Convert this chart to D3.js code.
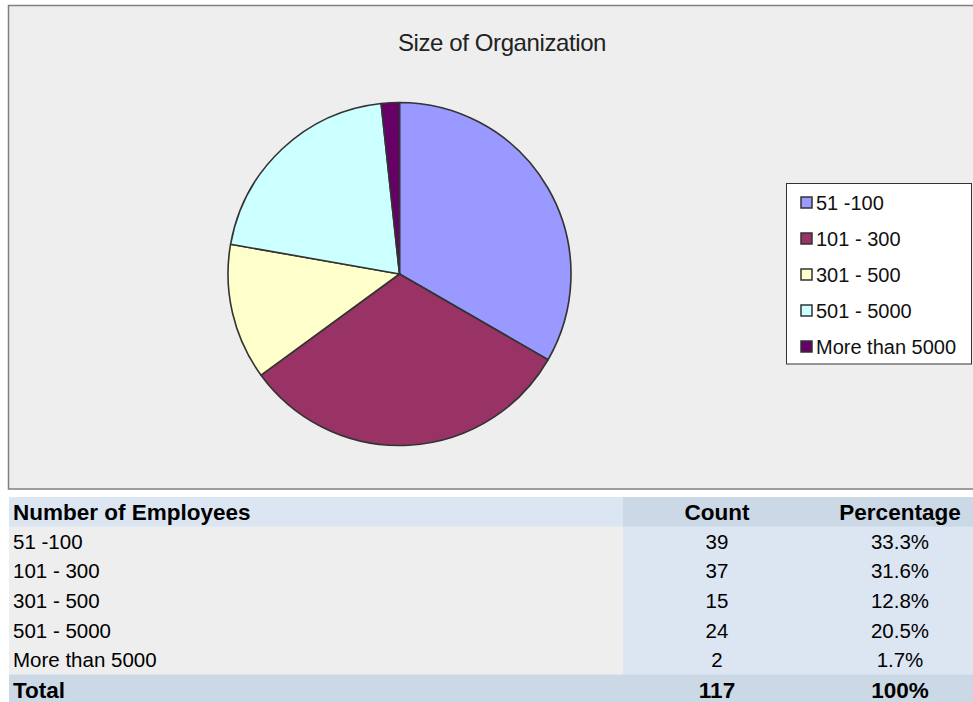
<!DOCTYPE html>
<html>
<head>
<meta charset="utf-8">
<script src="https://cdn.jsdelivr.net/npm/d3@7"></script>
<style>
  body { margin: 0; background: #ffffff; overflow: hidden; }
  svg { display: block; font-family: "Liberation Sans", Arial, sans-serif; }
</style>
</head>
<body>
<div id="chart"></div>
<script>
// data
var categories = ["51 -100", "101 - 300", "301 - 500", "501 - 5000", "More than 5000"];
var counts = [39, 37, 15, 24, 2];
var percentages = ["33.3%", "31.6%", "12.8%", "20.5%", "1.7%"];
var totalCount = 117;
var totalPercent = "100%";
var colors = ["#9999FF", "#993366", "#FFFFCC", "#CCFFFF", "#660066"];
var title = "Size of Organization";
var headers = ["Number of Employees", "Count", "Percentage"];

var W = 973, H = 702;

var svg = d3.select("#chart")
  .append("svg")
  .attr("width", W)
  .attr("height", H);

// chart area box
svg.append("rect")
  .attr("x", 8.5).attr("y", 5.5)
  .attr("width", 980).attr("height", 483.5)
  .attr("fill", "#EEEEEE")
  .attr("stroke", "#808080")
  .attr("stroke-width", 1.5);

svg.append("text")
  .attr("x", 502).attr("y", 51)
  .attr("text-anchor", "middle")
  .style("font-size", "24px")
  .style("letter-spacing", "-0.4px")
  .attr("fill", "#222")
  .text(title);

// pie
var cx = 399.5, cy = 274, r = 171.5;
var pie = d3.pie().sort(null).value(d => d.count);
var arc = d3.arc().innerRadius(0).outerRadius(r);
var pieData = categories.map((c, i) => ({cat: c, count: counts[i], color: colors[i]}));

var g = svg.append("g").attr("transform", "translate(" + cx + "," + cy + ")");
g.selectAll("path")
  .data(pie(pieData))
  .enter()
  .append("path")
  .attr("d", arc)
  .attr("fill", d => d.data.color)
  .attr("stroke", "#333333")
  .attr("stroke-width", 1.6)
  .attr("stroke-linejoin", "round");

// legend
var legend = svg.append("g");
legend.append("rect")
  .attr("x", 786.5).attr("y", 183.5)
  .attr("width", 185).attr("height", 180.5)
  .attr("fill", "#ffffff")
  .attr("stroke", "#333333")
  .attr("stroke-width", 1);

var ly = d3.scalePoint().domain(categories).range([202.5, 346.5]);
var items = legend.selectAll("g.item")
  .data(pieData)
  .enter()
  .append("g")
  .attr("class", "item")
  .attr("transform", d => "translate(0," + ly(d.cat) + ")");
items.append("rect")
  .attr("x", 801).attr("y", -5.5)
  .attr("width", 11).attr("height", 11)
  .attr("fill", d => d.color)
  .attr("stroke", "#333333")
  .attr("stroke-width", 1.5);
items.append("text")
  .attr("x", 816).attr("y", 0)
  .attr("dy", "0.36em")
  .style("font-size", "20px")
  .attr("fill", "#111")
  .text(d => d.cat);

// table
var rows = ["header"].concat(categories).concat(["total"]);
var y = d3.scaleBand().domain(rows).range([497, 497 + 29.6 * rows.length]);
var colX = {left: 9, count: 623, right: 975};
var countMid = 717, pctMid = 900;

var table = svg.append("g");
rows.forEach(function(row) {
  var isHead = row === "header", isTotal = row === "total";
  var c1 = isHead ? "#DCE6F2" : isTotal ? "#CBD8E5" : "#EEEEEE";
  var c2 = isHead ? "#CBD8E5" : isTotal ? "#CBD8E5" : "#DCE6F2";
  table.append("rect")
    .attr("x", colX.left).attr("y", y(row))
    .attr("width", colX.count - colX.left).attr("height", y.bandwidth() + 0.5)
    .attr("fill", c1);
  table.append("rect")
    .attr("x", colX.count).attr("y", y(row))
    .attr("width", colX.right - colX.count).attr("height", y.bandwidth() + 0.5)
    .attr("fill", c2);
});

var cells = [];
cells.push({row: "header", vals: headers, bold: true});
categories.forEach((c, i) => cells.push({row: c, vals: [c, String(counts[i]), percentages[i]], bold: false}));
cells.push({row: "total", vals: ["Total", String(totalCount), totalPercent], bold: true});

cells.forEach(function(d) {
  var yy = y(d.row) + y.bandwidth() / 2;
  var t = table.append("g").attr("transform", "translate(0," + yy + ")")
    .style("font-size", d.bold ? "22.5px" : "20.5px")
    .style("font-weight", d.bold ? "bold" : "normal")
    .attr("fill", "#000");
  t.append("text").attr("x", 13).attr("dy", "0.36em").text(d.vals[0]);
  t.append("text").attr("x", countMid).attr("dy", "0.36em").attr("text-anchor", "middle").text(d.vals[1]);
  t.append("text").attr("x", pctMid).attr("dy", "0.36em").attr("text-anchor", "middle").text(d.vals[2]);
});
</script>
</body>
</html>
